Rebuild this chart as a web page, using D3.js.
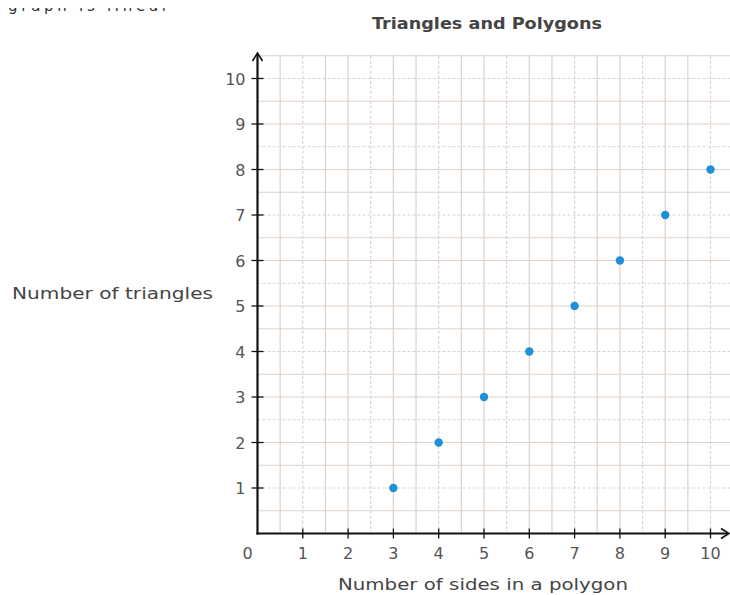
<!DOCTYPE html>
<html><head><meta charset="utf-8">
<script src="https://cdn.jsdelivr.net/npm/d3@7"></script>
<style>body{margin:0;background:#fff}svg{display:block}text{font-family:"DejaVu Sans","Noto Sans",sans-serif}</style>
</head><body><svg id="c" width="730" height="595"></svg>
<script>
const sides = [3,4,5,6,7,8,9,10];
const triangles = [1,2,3,4,5,6,7,8];
const xTicks = [0,1,2,3,4,5,6,7,8,9,10];
const yTicks = [1,2,3,4,5,6,7,8,9,10];
const title = "Triangles and Polygons";
const xLabel = "Number of sides in a polygon";
const yLabel = "Number of triangles";
const topText = "graph is linear";

const svg = d3.select("#c");
const x = d3.scaleLinear().domain([0,10]).range([257.5,710.5]);
const y = d3.scaleLinear().domain([0,10]).range([533.5,78.5]);

// cropped top text (cut by the reference's top edge)
svg.append("clipPath").attr("id","tc").append("rect").attr("x",0).attr("y",8).attr("width",300).attr("height",20);
svg.append("text").attr("clip-path","url(#tc)").attr("x",8).attr("y",10.5).attr("font-size",15).attr("fill","#333").attr("textLength",160).attr("lengthAdjust","spacing").text(topText);

// grid
const gridC = "#ddd2ca";
const halfX = d3.range(0.5, 10.6, 0.5);
const halfY = d3.range(0.5, 10.6, 0.5);
const g = svg.append("g");
g.selectAll("line.gx").data(halfX).join("line")
  .attr("x1",d=>x(d)).attr("x2",d=>x(d)).attr("y1",y(10.5)).attr("y2",y(0))
  .attr("stroke",gridC).attr("stroke-width",1.2)
  .attr("stroke-dasharray",(d,i)=> i%3===1 ? "3,2" : null);
g.selectAll("line.gy").data(halfY).join("line")
  .attr("x1",x(0)).attr("x2",730).attr("y1",d=>y(d)).attr("y2",d=>y(d))
  .attr("stroke",gridC).attr("stroke-width",1.2)
  .attr("stroke-dasharray",(d,i)=> i%3===1 ? "3,2" : null);

// axes
const axC = "#111";
svg.append("line").attr("x1",x(0)).attr("x2",x(0)).attr("y1",y(0)+1).attr("y2",54).attr("stroke",axC).attr("stroke-width",2.2);
svg.append("line").attr("x1",x(0)-1).attr("x2",728).attr("y1",y(0)).attr("y2",y(0)).attr("stroke",axC).attr("stroke-width",2.2);
svg.append("path").attr("d",`M${x(0)-5},${61} L${x(0)},${53} L${x(0)+5},${61}`).attr("fill","none").attr("stroke",axC).attr("stroke-width",1.6);
svg.append("path").attr("d",`M${721},${y(0)-5} L${729},${y(0)} L${721},${y(0)+5}`).attr("fill","none").attr("stroke",axC).attr("stroke-width",1.6);

// ticks
svg.append("g").selectAll("line").data(yTicks).join("line")
  .attr("x1",x(0)-6).attr("x2",x(0)+6).attr("y1",d=>y(d)).attr("y2",d=>y(d)).attr("stroke",axC).attr("stroke-width",1.3);
svg.append("g").selectAll("line").data(xTicks.slice(1)).join("line")
  .attr("x1",d=>x(d)).attr("x2",d=>x(d)).attr("y1",y(0)-5).attr("y2",y(0)+5).attr("stroke",axC).attr("stroke-width",1.3);

// tick labels
const labC = "#555";
svg.append("g").selectAll("text").data(yTicks).join("text")
  .attr("x",x(0)-12).attr("y",d=>y(d)+6).attr("text-anchor","end")
  .attr("font-size",16).attr("fill",labC).text(d=>d);
svg.append("g").selectAll("text").data(xTicks).join("text")
  .attr("x",d=> d===0 ? x(0)-10 : x(d)).attr("y",y(0)+25).attr("text-anchor","middle")
  .attr("font-size",16).attr("fill",labC).text(d=>d);

// points
svg.append("g").selectAll("circle").data(sides).join("circle")
  .attr("cx",d=>x(d)).attr("cy",(d,i)=>y(triangles[i])).attr("r",4.2).attr("fill","#1f8fd8");

// titles
svg.append("text").attr("x",372).attr("y",29).attr("font-size",16).attr("font-weight",600).attr("fill","#444")
  .attr("textLength",230).attr("lengthAdjust","spacingAndGlyphs").text(title);
svg.append("text").attr("x",338).attr("y",590).attr("font-size",16.5).attr("fill","#444")
  .attr("textLength",290).attr("lengthAdjust","spacingAndGlyphs").text(xLabel);
svg.append("text").attr("x",12).attr("y",299).attr("font-size",16.5).attr("fill","#444")
  .attr("textLength",201).attr("lengthAdjust","spacingAndGlyphs").text(yLabel);
</script></body></html>
